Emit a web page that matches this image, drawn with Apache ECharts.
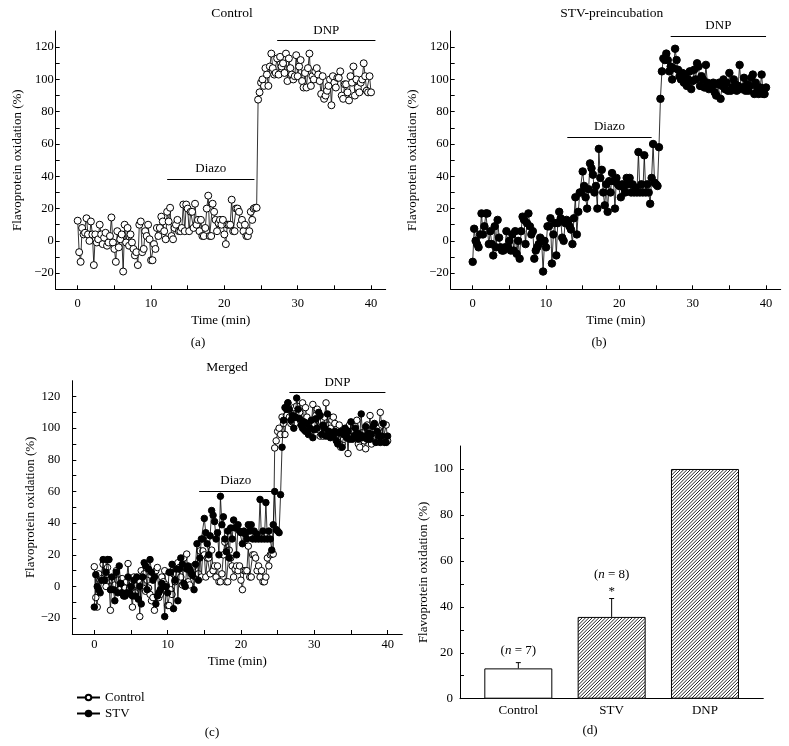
<!DOCTYPE html>
<html><head><meta charset="utf-8">
<script src="https://cdn.jsdelivr.net/npm/echarts@6/dist/echarts.min.js"></script>
<style>html,body{margin:0;padding:0;background:#fff}#c{width:789px;height:746px}</style>
</head><body><div id="c"></div>
<script>
// ---------- data ----------
const sampleMinutes = 0.2; // sampling interval of the time courses
const controlValues = [
 12.5,-7,-13,8,4,5,14,4,0,12,
 4,-15,4,-1,1,10,4,-2,2,5,
 -3,-1,3,14.5,-1,-5,-13,6,-4,1,
 4,-19,10,-1,8,-3,4,-1,-5,-9,
 -7,-15,10,12,-7,-5,6,3,10,1,
 -12,-12,-2,-5,8,3,8,15,12,6,
 1,18,12,20.5,3,1,8,10,13,6,
 6,8,22.5,6,22.5,20,6,18,18,8,
 23,10,13,6,13,3,3,8,20,28,
 3,3,23,18,13,6,11,13,10,13,
 4,-2,10,10,10,25.5,6,6,20,20,
 18,10,13,6,10,3,3,6,18,13,
 20,20.5,20.5,
 87.5,92,98,100,96,107,103,96,108,116,
 107,103,104,113,103,114,108,110,104,116,
 99,113,107,103,100,102,115,102,108,112,
 99,95,104,95,107,116,96,102,100,105,
 107,103,99,91,102,88,90,93,96,100,
 84,102,98,95,101,101,105,90,88,97,
 97,92,87,102,98,108,90,100,95,92,
 98,100,110,102,93,92,102,92
];
const stvValues = [
 -13,7.5,0,-2,-4,4,17,4,9,17,
 17,-2,6,-2,-9,9,-4,13,2,-4,
 -6,-6,-4,6,-4,0,-6,4,-6,6,
 -8,0,-11,6,15,13,-2,11,17,9,
 4,6,-11,-6,-4,-2,2,0,-19,0,
 -4,9,9,14,-14,4,11,-9,11,18,
 14,2,0,11,13,11,9,7,-2,14,
 27,4,18,30,30,43,34,27,20,32,
 48,45,41,30,34,20,57,39,44,30,
 22,35,18,37,30,42,37,20,39,35,
 34,27,35,33,30,39,35,39,30,35,
 30,33,30,55,30,35,30,53,30,35,
 30,23,39,60,36,35,34,58,
 88,105,113,112,116,112,105,108,100,107,
 119,112,106,102,100,104,98,103,96,100,
 105,94,99,106,100,110,108,96,102,100,
 95,109,98,94,97,95,98,92,90,97,
 98,88,96,100,94,98,93,104,93,95,
 100,97,93,96,109,94,95,101,93,97,
 93,96,101,103,91,98,95,91,95,103,
 91,91,95
];
// treatment bars [start min, end min, level %]
const diazoA = [12.2, 24.1, 38],   dnpA = [27.2, 40.6, 124];
const diazoB = [12.9, 24.4, 64],   dnpB = [27.0, 40.0, 126.8];
const diazoC = [14.3, 24.3, 60],   dnpC = [26.6, 39.7, 122.4];
const xTickLabels = [0, 10, 20, 30, 40];
const xTickMarks = [0, 5, 10, 15, 20, 25, 30, 35, 40];
const yTickLabels = [-20, 0, 20, 40, 60, 80, 100, 120];
const yTickMarks = [-20, -10, 0, 10, 20, 30, 40, 50, 60, 70, 80, 90, 100, 110, 120];
const barCategories = ['Control', 'STV', 'DNP'];
const barValues = [13.2, 35.6, 100];
const barErrors = [2.5, 8.0, 0];
const barN = ['7', '8', ''];
const barSig = ['', '*', ''];
const dTickLabels = [0, 20, 40, 60, 80, 100];
const dTickMarks = [0, 10, 20, 30, 40, 50, 60, 70, 80, 90, 100];

// ---------- helpers ----------
const FONT = 'Liberation Serif';
const toPairs = vals => vals.map((v, i) => [+(i * sampleMinutes).toFixed(2), v]);
const fmtNum = v => (v < 0 ? '\u2212' + Math.abs(v) : String(v));
const txt = (size) => ({ color: '#000', fontFamily: FONT, fontSize: size });

function xAxisTime(gi, margin, nameGap) {
  return {
    type: 'value', gridIndex: gi, min: -3, max: 42,
    axisLine: { show: true, onZero: false, lineStyle: { color: '#000', width: 1 } },
    axisTick: { show: true, inside: true, length: 4, customValues: xTickMarks, lineStyle: { color: '#000' } },
    axisLabel: Object.assign({ customValues: xTickLabels, margin: margin }, txt(12.5)),
    splitLine: { show: false },
    name: 'Time (min)', nameLocation: 'middle', nameGap: nameGap, nameTextStyle: txt(13)
  };
}
function yAxisPct(gi, margin, nameGap) {
  return {
    type: 'value', gridIndex: gi, min: -30, max: 130,
    axisLine: { show: true, onZero: false, lineStyle: { color: '#000', width: 1 } },
    axisTick: { show: true, inside: true, length: 4, customValues: yTickMarks, lineStyle: { color: '#000' } },
    axisLabel: Object.assign({ customValues: yTickLabels, margin: margin, formatter: fmtNum }, txt(12.5)),
    splitLine: { show: false },
    name: 'Flavoprotein oxidation (%)', nameLocation: 'middle', nameGap: nameGap, nameRotate: 90,
    nameTextStyle: txt(13)
  };
}
function markLines(diazo, dnp) {
  return {
    symbol: 'none', silent: true, animation: false,
    lineStyle: { color: '#000', width: 1, type: 'solid' },
    label: Object.assign({ show: true, position: 'middle', formatter: '{b}', distance: 4 }, txt(13)),
    emphasis: { disabled: true },
    data: [
      [{ name: 'Diazo', coord: [diazo[0], diazo[2]] }, { coord: [diazo[1], diazo[2]] }],
      [{ name: 'DNP', coord: [dnp[0], dnp[2]] }, { coord: [dnp[1], dnp[2]] }]
    ]
  };
}
function lineSeries(name, vals, gi, filled, size, ml) {
  const s = {
    type: 'line', name: name, xAxisIndex: gi, yAxisIndex: gi,
    data: toPairs(vals), symbol: 'circle', symbolSize: size, showSymbol: true,
    lineStyle: { color: '#000', width: 0.8 },
    itemStyle: { color: filled ? '#000' : '#fff', borderColor: '#000', borderWidth: 1 },
    emphasis: { disabled: true }, animation: false, z: filled ? 3 : 2
  };
  if (ml) s.markLine = ml;
  return s;
}
function hatchCanvas() {
  const c = document.createElement('canvas');
  const s = 10; c.width = s; c.height = s;
  const g = c.getContext('2d');
  g.fillStyle = '#fff'; g.fillRect(0, 0, s, s);
  g.strokeStyle = '#111'; g.lineWidth = 0.9;
  for (let k = -1; k <= 7; k++) {
    const cc = k * s / 3;
    g.beginPath(); g.moveTo(cc, 0); g.lineTo(cc - s, s); g.stroke();
  }
  return c;
}
const hatch = { image: hatchCanvas(), repeat: 'repeat' };

// ---------- chart ----------
const chart = echarts.init(document.getElementById('c'), null, { renderer: 'canvas' });
const option = {
  animation: false,
  backgroundColor: '#fff',
  grid: [
    { left: 55.7, top: 31, width: 330, height: 258.3 },
    { left: 450.7, top: 31, width: 330, height: 258.3 },
    { left: 72.3, top: 380.7, width: 330, height: 253.3 },
    { left: 460, top: 446, width: 303.3, height: 252.7 }
  ],
  xAxis: [
    xAxisTime(0, 8, 25),
    xAxisTime(1, 8, 25),
    xAxisTime(2, 4, 21),
    {
      type: 'value', gridIndex: 3, min: 0.375, max: 3.625,
      axisLine: { show: true, onZero: false, lineStyle: { color: '#000' } },
      axisTick: { show: false },
      axisLabel: Object.assign({ customValues: [1, 2, 3], margin: 5,
        formatter: v => barCategories[Math.round(v) - 1] || '' }, txt(13)),
      splitLine: { show: false }
    }
  ],
  yAxis: [
    yAxisPct(0, 2, 32),
    yAxisPct(1, 2, 32),
    yAxisPct(2, 12, 33),
    {
      type: 'value', gridIndex: 3, min: 0, max: 110,
      axisLine: { show: true, onZero: false, lineStyle: { color: '#000' } },
      axisTick: { show: true, inside: true, length: 4, customValues: dTickMarks, lineStyle: { color: '#000' } },
      axisLabel: Object.assign({ customValues: dTickLabels, margin: 7 }, txt(13)),
      splitLine: { show: false },
      name: 'Flavoprotein oxidation (%)', nameLocation: 'middle', nameGap: 27, nameRotate: 90,
      nameTextStyle: txt(13)
    }
  ],
  legend: {
    show: true, orient: 'vertical', left: 71, top: 686,
    data: ['Control', 'STV'], itemWidth: 23, itemHeight: 7, itemGap: 3,
    textStyle: txt(13), selectedMode: false
  },
  series: [
    lineSeries('Control (a)', controlValues, 0, false, 7, markLines(diazoA, dnpA)),
    lineSeries('STV (b)', stvValues, 1, true, 7.5, markLines(diazoB, dnpB)),
    lineSeries('Control', controlValues, 2, false, 6.5, markLines(diazoC, dnpC)),
    lineSeries('STV', stvValues, 2, true, 6.5, null),
    {
      type: 'bar', name: 'bars', xAxisIndex: 3, yAxisIndex: 3, barWidth: 68,
      data: barValues.map((v, i) => ({
        value: [i + 1, v],
        itemStyle: { color: i === 0 ? '#fff' : hatch, borderColor: '#000', borderWidth: 1 }
      })),
      emphasis: { disabled: true }, animation: false
    },
    {
      type: 'custom', name: 'err', xAxisIndex: 3, yAxisIndex: 3, z: 5,
      encode: { x: 0, y: 1 },
      data: barValues.map((v, i) => [i + 1, v, barErrors[i], i]),
      renderItem: function (params, api) {
        const x = api.value(0), y = api.value(1), e = api.value(2), idx = api.value(3);
        const p0 = api.coord([x, y]);
        const p1 = api.coord([x, y + e]);
        const children = [];
        if (e > 0) {
          children.push({ type: 'line', shape: { x1: p0[0], y1: p0[1], x2: p1[0], y2: p1[1] }, style: { stroke: '#000', lineWidth: 1 } });
          children.push({ type: 'line', shape: { x1: p1[0] - 2.5, y1: p1[1], x2: p1[0] + 2.5, y2: p1[1] }, style: { stroke: '#000', lineWidth: 1 } });
        }
        const rich = {
          p: { fontFamily: FONT, fontSize: 13, fill: '#000' },
          i: { fontFamily: FONT, fontSize: 13, fontStyle: 'italic', fill: '#000' }
        };
        let off = 12;
        if (barSig[idx]) {
          children.push({ type: 'text', x: p1[0], y: p1[1] - 7, style: { text: barSig[idx], align: 'center', verticalAlign: 'middle', fontFamily: FONT, fontSize: 13, fill: '#000' } });
          off = 23.5;
        }
        if (barN[idx]) {
          children.push({ type: 'text', x: p1[0], y: p1[1] - off, style: { text: '{p|(}{i|n}{p| = ' + barN[idx] + ')}', rich: rich, align: 'center', verticalAlign: 'middle', fill: '#000' } });
        }
        return { type: 'group', children: children };
      },
      animation: false
    }
  ],
  graphic: [
    { type: 'text', x: 232, y: 13.5, style: { text: 'Control', align: 'center', verticalAlign: 'middle', fontFamily: FONT, fontSize: 13.5, fill: '#000' } },
    { type: 'text', x: 611.7, y: 13.5, style: { text: 'STV-preincubation', align: 'center', verticalAlign: 'middle', fontFamily: FONT, fontSize: 13.5, fill: '#000' } },
    { type: 'text', x: 227, y: 367.3, style: { text: 'Merged', align: 'center', verticalAlign: 'middle', fontFamily: FONT, fontSize: 13.5, fill: '#000' } },
    { type: 'text', x: 198, y: 342.7, style: { text: '(a)', align: 'center', verticalAlign: 'middle', fontFamily: FONT, fontSize: 13, fill: '#000' } },
    { type: 'text', x: 599, y: 342.7, style: { text: '(b)', align: 'center', verticalAlign: 'middle', fontFamily: FONT, fontSize: 13, fill: '#000' } },
    { type: 'text', x: 212, y: 732.3, style: { text: '(c)', align: 'center', verticalAlign: 'middle', fontFamily: FONT, fontSize: 13, fill: '#000' } },
    { type: 'text', x: 590, y: 731, style: { text: '(d)', align: 'center', verticalAlign: 'middle', fontFamily: FONT, fontSize: 13, fill: '#000' } }
  ]
};
chart.setOption(option);
</script>
</body></html>
